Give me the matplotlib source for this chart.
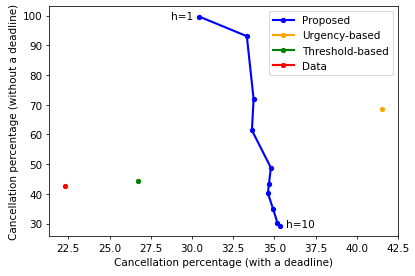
import matplotlib
matplotlib.use("Agg")
import matplotlib.pyplot as plt

prop_x = [30.44, 33.33, 33.74, 33.64, 34.79, 34.67, 34.61, 34.93, 35.19, 35.35]
prop_y = [99.7, 93.1, 72.0, 61.4, 48.8, 43.4, 40.2, 34.8, 30.2, 29.3]
urg_x = [41.55]
urg_y = [68.6]
thr_x = [26.7]
thr_y = [44.3]
data_x = [22.29]
data_y = [42.6]

plt.rcParams['font.size'] = 10.8
fig = plt.figure(figsize=(6, 4), dpi=69.2)
ax = fig.add_axes([0.118, 0.144, 0.841, 0.831])
ax.plot(prop_x, prop_y, '-o', color='blue', lw=2.2, ms=4.5, label='Proposed')
ax.plot(urg_x, urg_y, '-o', color='orange', lw=2.2, ms=4.5, label='Urgency-based')
ax.plot(thr_x, thr_y, '-o', color='green', lw=2.2, ms=4.5, label='Threshold-based')
ax.plot(data_x, data_y, '-o', color='red', lw=2.2, ms=4.5, label='Data')
ax.text(prop_x[0] - 0.35, prop_y[0], 'h=1', ha='right', va='center', fontsize=11)
ax.text(prop_x[-1] + 0.35, prop_y[-1] + 0.6, 'h=10', ha='left', va='center', fontsize=11)
ax.set_xlabel('Cancellation percentage (with a deadline)')
ax.set_ylabel('Cancellation percentage (without a deadline)')
ax.legend(loc='upper right')
fig.savefig('out.png', dpi=69.2)
